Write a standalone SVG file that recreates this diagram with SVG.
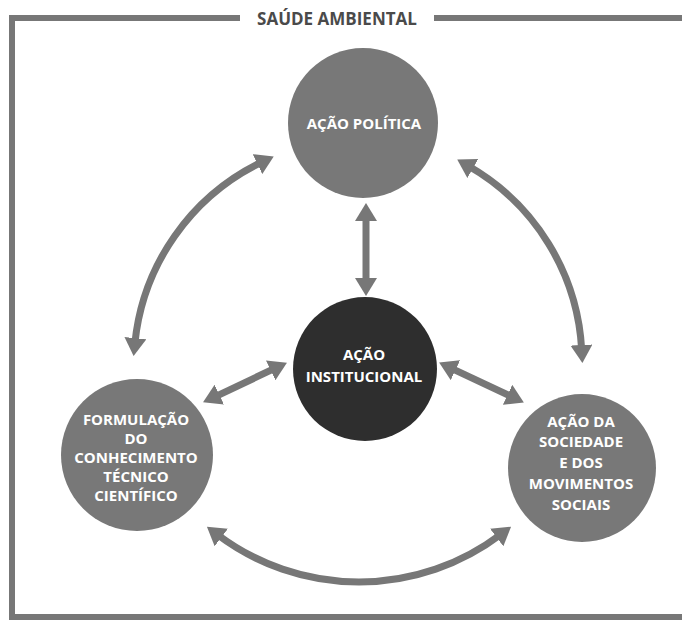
<svg xmlns="http://www.w3.org/2000/svg" width="682" height="624" viewBox="0 0 682 624">
<defs>
<style>
.frame{fill:none;stroke:#777;stroke-width:6}
.node{fill:#787878}
.hub{fill:#2e2e2e}
.lbl{font-family:"Open Sans","Liberation Sans",sans-serif;font-weight:bold;font-size:15px;fill:#fff;text-anchor:middle}
.title{font-family:"Open Sans","Liberation Sans",sans-serif;font-weight:bold;font-size:17px;fill:#4a4a4a;text-anchor:middle}
.arr{fill:none;stroke:#777;stroke-width:7;marker-start:url(#ah);marker-end:url(#ah)}
</style>
<marker id="ah" viewBox="0 0 18 22" refX="5" refY="11" markerWidth="18" markerHeight="22" markerUnits="userSpaceOnUse" orient="auto-start-reverse">
<path d="M0,0 L18,11 L0,22 z" fill="#777"/>
</marker>
</defs>
<rect width="682" height="624" fill="#fff"/>
<g id="frame">
<path class="frame" d="M240,18 H12 V617 H682"/>
<path class="frame" d="M434,18 H682"/>
<text class="title" x="337" y="25">SAÚDE AMBIENTAL</text>
</g>
<g id="connectors">
<path class="arr" d="M366,216 V283"/>
<path class="arr" d="M214.8,396.8 L275.2,368.2"/>
<path class="arr" d="M450.9,368.1 L512.1,396.9"/>
<path class="arr" d="M134.9,343.1 A226,226 0 0 1 262,162"/>
<path class="arr" d="M468.5,166 A226,226 0 0 1 581.7,350"/>
<path class="arr" d="M217.3,534.5 A235,235 0 0 0 500.7,534.5"/>
</g>
<g id="acao-politica">
<circle class="node" cx="363" cy="123" r="75"/>
<text class="lbl" x="364" y="129" font-size="15.5">AÇÃO POLÍTICA</text>
</g>
<g id="acao-institucional">
<circle class="hub" cx="365" cy="369" r="72"/>
<text class="lbl" x="364" y="360">AÇÃO</text>
<text class="lbl" x="364" y="382">INSTITUCIONAL</text>
</g>
<g id="formulacao">
<circle class="node" cx="137" cy="455" r="76"/>
<text class="lbl" x="136" y="425">FORMULAÇÃO</text>
<text class="lbl" x="136" y="444">DO</text>
<text class="lbl" x="136" y="463">CONHECIMENTO</text>
<text class="lbl" x="136" y="482">TÉCNICO</text>
<text class="lbl" x="136" y="501">CIENTÍFICO</text>
</g>
<g id="acao-sociedade">
<circle class="node" cx="582" cy="468" r="74"/>
<text class="lbl" x="581" y="427">AÇÃO DA</text>
<text class="lbl" x="581" y="447">SOCIEDADE</text>
<text class="lbl" x="581" y="468">E DOS</text>
<text class="lbl" x="581" y="489">MOVIMENTOS</text>
<text class="lbl" x="581" y="510">SOCIAIS</text>
</g>
</svg>
